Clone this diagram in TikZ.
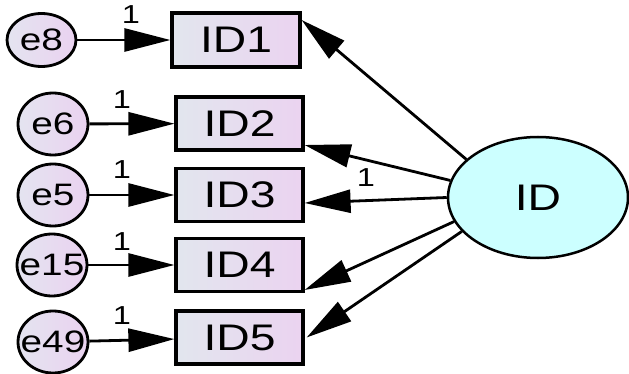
\documentclass[tikz,border=0pt]{standalone}
\usepackage{fontspec}
\setmainfont{Liberation Sans}[FakeStretch=1.25]
\usetikzlibrary{shapes.geometric,arrows.meta}
\definecolor{boxL}{HTML}{E2E6EE}
\definecolor{boxR}{HTML}{EBD3F0}
\definecolor{errL}{HTML}{E4E4F0}
\definecolor{errR}{HTML}{EAD2F0}
\definecolor{latent}{HTML}{CCFFFF}
\begin{document}
\begin{tikzpicture}[x=1pt,y=-1pt,
  obs/.style={draw=black,line width=3.2pt,rectangle,minimum width=127pt,minimum height=53pt,
    inner sep=0pt,left color=boxL,right color=boxR,font=\fontsize{37}{40}\selectfont},
  err/.style={draw=black,line width=2.8pt,ellipse,minimum width=70pt,minimum height=62pt,
    inner sep=0pt,left color=errL,right color=errR,
    label={[font=\fontsize{31}{34}\selectfont]center:#1}},
  lat/.style={draw=black,line width=2.5pt,ellipse,minimum width=180pt,minimum height=121pt,
    inner sep=0pt,fill=latent,font=\fontsize{37}{40}\selectfont},
  arr/.style={line width=2.8pt,-{Triangle[length=46pt,width=23pt]}},
  one/.style={font=\fontsize{26}{28}\selectfont,inner sep=0pt}]
\useasboundingbox (0,0) rectangle (629,374);

\node[obs,minimum width=128pt,minimum height=54pt] (ID1) at (236,40) {ID1};
\node[obs] (ID2) at (239.5,123.5) {ID2};
\node[obs] (ID3) at (239.5,195) {ID3};
\node[obs] (ID4) at (239.5,265) {ID4};
\node[obs] (ID5) at (239.5,337.5) {ID5};

\node[err=e8,minimum width=69pt,minimum height=53pt] (e8) at (41.5,40) {};
\node[err=e6] (e6) at (53,124) {};
\node[err=e5] (e5) at (53,195) {};
\node[err=e15] (e15) at (52,265) {};
\node[err=e49] (e49) at (53,342) {};

\node[lat] (ID) at (538,197.5) {ID};

\draw[arr] (e8) -- (ID1);
\draw[arr] (e6) -- (ID2);
\draw[arr] (e5) -- (ID3);
\draw[arr] (e15) -- (ID4);
\draw[arr] (e49) -- (ID5);

\draw[arr] (ID.152) -- ([yshift=20pt]ID1.east);
\draw[arr] (ID.169) -- ([yshift=-21.5pt]ID2.east);
\draw[arr] (ID.180) -- ([yshift=-8pt]ID3.east);
\draw[arr] (ID.196) -- ([yshift=-25pt]ID4.east);
\draw[arr] (ID.204) -- ([xshift=2pt]ID5.east);

\node[one] (l1) at (131,15) {1};
\node[one] (l2) at (122,100) {1};
\node[one] (l3) at (122,170) {1};
\node[one] (l4) at (122,242) {1};
\node[one] (l5) at (122,316) {1};
\node[one] (l6) at (366,178) {1};
\end{tikzpicture}
\end{document}
